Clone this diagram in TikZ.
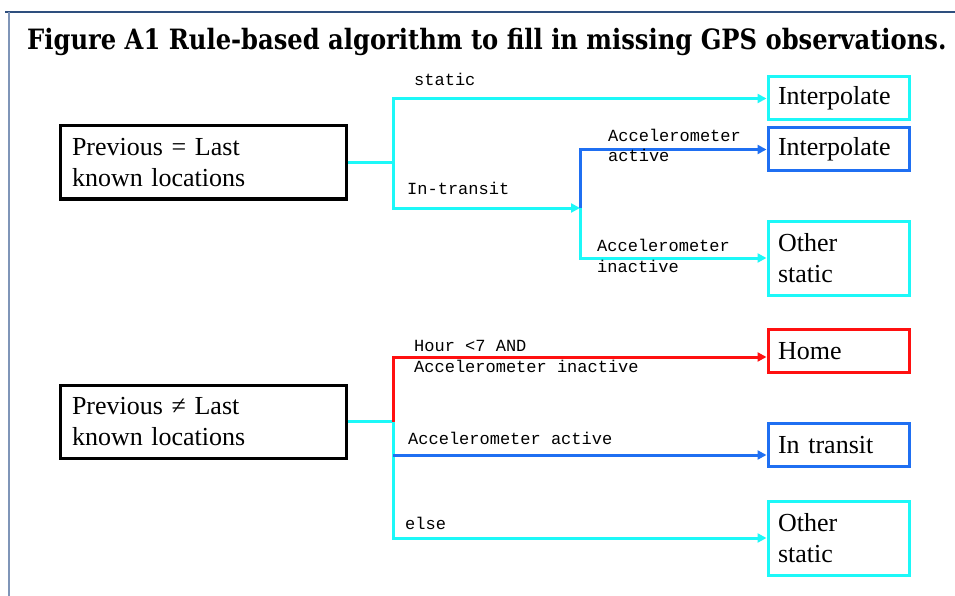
\documentclass[tikz,border=0pt]{standalone}
\usepackage{fontspec}
\setmainfont{Liberation Serif}
\setmonofont{Liberation Mono}
\newfontfamily\titlefont[FakeStretch=0.865]{DejaVu Serif}
\usetikzlibrary{arrows.meta,positioning}
\usepackage{xcolor}
\definecolor{lightcyan}{HTML}{1CF8F8}
\definecolor{midblue}{HTML}{1F6FF2}
\definecolor{brightred}{HTML}{FF1010}
\definecolor{framecol}{HTML}{2E4F7E}
\definecolor{frameleft}{HTML}{7F95B8}
\tikzset{
  box/.style={draw=black, line width=3pt, align=left, text width=262pt, minimum width=286pt, minimum height=73pt, inner xsep=11pt, inner ysep=0pt, font=\fontsize{26}{31}\selectfont},
  endbox/.style={box, text width=121pt, minimum width=141pt, minimum height=43pt, inner xsep=10pt},
  cyanbox/.style={endbox, draw=lightcyan},
  bluebox/.style={endbox, draw=midblue},
  redbox/.style={endbox, draw=brightred},
  cond/.style={anchor=base west, inner sep=0pt, align=left, font=\ttfamily\fontsize{17}{20.5}\selectfont},
  arrow/.style={-{Triangle[length=9pt,width=9pt]}, line width=3pt},
  cyanline/.style={line width=3pt, draw=lightcyan},
  cyanarrow/.style={arrow, draw=lightcyan},
  bluearrow/.style={arrow, draw=midblue},
  redarrow/.style={arrow, draw=brightred}
}
\begin{document}
\begin{tikzpicture}[x=1pt, y=-1pt]
  \useasboundingbox[fill=white] (0,0) rectangle (955,596);
  % frame and title
  \draw[framecol, line width=1.2pt] (5,12) -- (955,12);
  \draw[frameleft, line width=1.2pt] (9,12) -- (9,596);
  \node[anchor=base west, inner sep=0pt] (title) at (27,50) {\titlefont\bfseries\fontsize{28}{32}\selectfont Figure A1 Rule-based algorithm to fill in missing GPS observations.};
  % upper tree
  \node[box] (prevsame) at (203,162.5) {Previous = Last\\known locations};
  \node[cyanbox] (interpA) at (838.5,98.5) {Interpolate};
  \node[bluebox] (interpB) at (838.5,149.5) {Interpolate};
  \node[cyanbox, minimum height=74pt] (otherA) at (838.5,258) {Other\\static};
  \coordinate (splitA) at (393,162.5);
  \coordinate (splitB) at (580,208);
  \draw[cyanline] (prevsame.east) -- (splitA);
  \draw[cyanarrow] (splitA) |- (interpA.west);
  \draw[cyanarrow] (splitA) |- (splitB);
  \draw[cyanarrow] (splitB) |- (otherA.west);
  \draw[bluearrow] (splitB) |- (interpB.west);
  \node[cond] (lstatic) at (414,86) {static};
  \node[cond] (ltransit) at (407,195) {In-transit};
  \node[cond] (lactive) at (608,162) {Accelerometer\\active};
  \node[cond] (linactive) at (597,272) {Accelerometer\\inactive};
  % lower tree
  \node[box] (prevdiff) at (203,421.5) {Previous ≠ Last\\known locations};
  \node[redbox] (home) at (838.5,351) {Home};
  \node[bluebox] (transit) at (838.5,445) {In transit};
  \node[cyanbox, minimum height=74pt] (otherB) at (838.5,538) {Other\\static};
  \coordinate (splitC) at (393,421.5);
  \draw[cyanline] (prevdiff.east) -- (splitC);
  \draw[redarrow] (splitC) |- ([yshift=-6pt]home.west);
  \draw[cyanarrow] (splitC) |- (otherB.west);
  \draw[bluearrow] ([yshift=-10pt]transit.west -| splitC) -- ([yshift=-10pt]transit.west);
  \node[cond] (lhour) at (414,372) {Hour <7 AND\\Accelerometer inactive};
  \node[cond] (lmoving) at (408,444) {Accelerometer active};
  \node[cond] (lelse) at (405,529) {else};
\end{tikzpicture}
\end{document}
